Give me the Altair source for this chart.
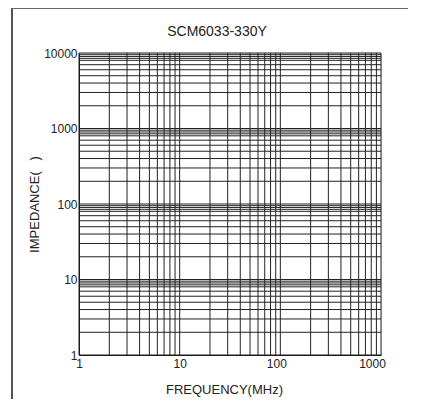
import altair as alt
import pandas as pd

# Grid values (log-log chart, no curve drawn)
x_grid = [1, 2, 3, 4, 5, 6, 7, 8, 9,
          10, 20, 30, 40, 50, 60, 70, 80, 90,
          100, 200, 300, 400, 500, 600, 700, 800, 900, 1000]
y_steps = [1, 2, 3, 4, 5, 6, 7, 8, 8.5, 9, 9.5]
y_grid = [s * 10 ** k for k in range(4) for s in y_steps] + [10000]
x_labels = [1, 10, 100, 1000]
y_labels = [1, 10, 100, 1000, 10000]

title_text = "SCM6033-330Y"
x_title = "FREQUENCY(MHz)"
y_title = "IMPEDANCE(\u00a0\u00a0\u00a0)"

FONT = "Liberation Sans"
W, H = 302, 302

dfx = pd.DataFrame({"f": x_grid})
dfy = pd.DataFrame({"z": y_grid})
dft = pd.DataFrame({"t": [title_text]})

xscale = alt.Scale(type="log", domain=[1, 1000], nice=False)
yscale = alt.Scale(type="log", domain=[1, 10000], nice=False)

xrules = alt.Chart(dfx).mark_rule(color="#222222", strokeWidth=1).encode(
    x=alt.X("f:Q", scale=xscale,
            axis=alt.Axis(values=x_labels, grid=False, ticks=False,
                          labelExpr="format(datum.value, 'd')",
                          labelFont=FONT, labelFontSize=12, labelColor="#222222",
                          labelPadding=3, labelFlush=False, labelOverlap=False,
                          labelOffset={"condition": [
                              {"test": "datum.value >= 1000", "value": -9},
                              {"test": "datum.value >= 100", "value": -4}],
                              "value": 0},
                          domainColor="#111111",
                          title=x_title, titleFont=FONT, titleFontSize=13,
                          titleFontWeight="normal", titleColor="#222222",
                          titleX=145, titleY=34, titleBaseline="middle",
                          titleAlign="center"))
)

yrules = alt.Chart(dfy).mark_rule(color="#222222", strokeWidth=1).encode(
    y=alt.Y("z:Q", scale=yscale,
            axis=alt.Axis(values=y_labels, grid=False, ticks=False,
                          labelExpr="format(datum.value, 'd')",
                          labelFont=FONT, labelFontSize=12, labelColor="#222222",
                          labelPadding=2, labelFlush=False, labelOverlap=False,
                          labelBaseline="middle",
                          domainColor="#111111",
                          title=y_title, titleFont=FONT, titleFontSize=13,
                          titleFontWeight="normal", titleColor="#222222",
                          titleX=-45, titleY=151, titleAngle=270,
                          titleBaseline="middle", titleAlign="center"))
)

title = alt.Chart(dft).mark_text(font=FONT, fontSize=14, color="#222222",
                                 baseline="middle", align="center").encode(
    text="t:N", x=alt.value(138), y=alt.value(-21))

# decorative outer frame of the figure
frame_left = alt.Chart(dfx).mark_rule(color="#555555", strokeWidth=1.5).encode(
    x=alt.value(-67), y=alt.value(-44.5), y2=alt.value(350))
frame_top = alt.Chart(dfx).mark_rule(color="#666666", strokeWidth=1).encode(
    x=alt.value(-67), x2=alt.value(329), y=alt.value(-44.5))

chart = alt.layer(xrules, yrules, title, frame_left, frame_top).properties(
    width=W, height=H,
    autosize=alt.AutoSizeParams(type="none"),
    padding={"left": 71, "top": 45, "right": 33, "bottom": 44},
).configure_view(stroke=None).configure(background="white")

chart.save("out.html", embed_options={"renderer": "svg", "actions": False})
